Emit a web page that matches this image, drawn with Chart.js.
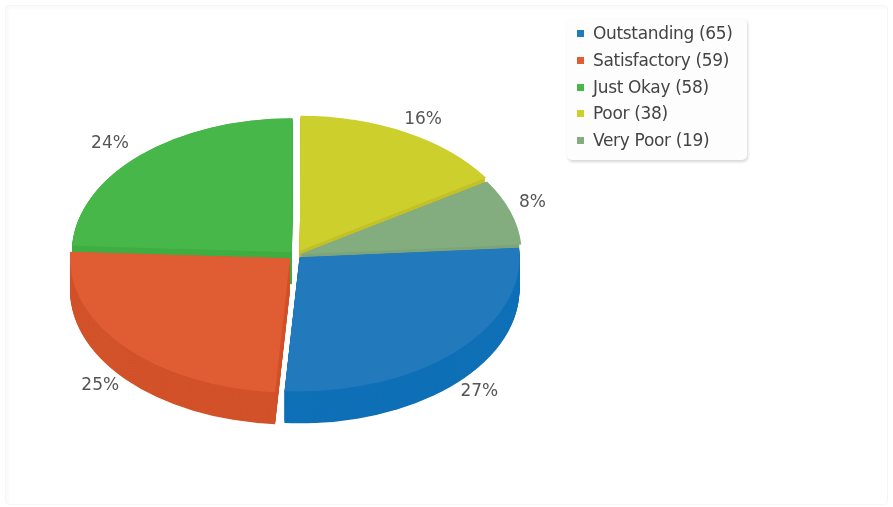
<!DOCTYPE html>
<html>
<head>
<meta charset="utf-8">
<style>
html, body { margin: 0; padding: 0; background: #fff; }
#card { position: absolute; left: 5px; top: 5px; width: 881px; height: 498px; border: 1px solid #f5f5f5; border-radius: 4px; box-shadow: inset 3px 3px 3px #fbfbfb; }
#pie3d { position: absolute; left: 0; top: 0; }
#legend { position: absolute; left: 567px; top: 18px; width: 180px; height: 142px; background: #fdfdfd; border-radius: 5px; box-shadow: 1px 2px 3px rgba(0,0,0,.16); font-family: "DejaVu Sans", sans-serif; font-size: 17px; letter-spacing: -.33px; color: #444; }
#legend div { position: absolute; left: 26px; white-space: nowrap; line-height: 26px; height: 26px; }
#legend span { position: absolute; left: -16px; top: 10px; width: 7px; height: 7px; }
</style>
</head>
<body>
<div id="card"></div>
<canvas id="pie3d" width="893" height="507"></canvas>
<div id="legend"></div>
<script src="https://cdn.jsdelivr.net/npm/chart.js@4/dist/chart.umd.min.js"></script>
<script>
var labels = ["Outstanding", "Satisfactory", "Just Okay", "Poor", "Very Poor"];
var values = [65, 59, 58, 38, 19];
var percents = ["27%", "25%", "24%", "16%", "8%"];
var topColors = ["#2279bc", "#e05d33", "#47b749", "#cdd02c", "#84ad7f"];
var sideColors = ["#0f70b7", "#d2522a", "#3fae43", "#c3c02a", "#7ea57a"];
var explode = [20, 32, 24, 32, 16];

var squash = 0.61;
var depth = 32;
var centerY = 255;
// how far out the percent labels sit, per slice
var labelRx = [259, 262, 270, 264, 249];
var labelRy = [243, 242, 253, 254, 274];
// back slices first so the front ones cover their sides
var drawOrder = [3, 4, 2, 1, 0];

// tilts the pie, extrudes each slice and writes the percent labels
var tiltedPie = {
    id: "tiltedPie",
    beforeDatasetsDraw: function (chart) {
        var ctx = chart.ctx;
        var arcs = chart.getDatasetMeta(0).data;

        ctx.save();
        ctx.translate(0, centerY);
        ctx.scale(1, squash);
        ctx.translate(0, -arcs[0].y);
        drawOrder.forEach(function (i) {
            var arc = arcs[i];
            var mid = (arc.startAngle + arc.endAngle) / 2;
            var shift = arc.options.offset / 4;
            var ox = arc.x + Math.cos(mid) * shift;
            var oy = arc.y + Math.sin(mid) * shift;
            ctx.fillStyle = sideColors[i];
            for (var d = depth / squash; d > 0; d -= 1) {
                ctx.beginPath();
                ctx.moveTo(ox, oy + d);
                ctx.arc(ox, oy + d, arc.outerRadius, arc.startAngle, arc.endAngle);
                ctx.closePath();
                ctx.fill();
            }
            arc.draw(ctx);
        });
        ctx.restore();

        ctx.save();
        ctx.font = '17px "DejaVu Sans", sans-serif';
        ctx.fillStyle = "#555";
        ctx.textAlign = "center";
        ctx.textBaseline = "middle";
        arcs.forEach(function (arc, i) {
            var mid = (arc.startAngle + arc.endAngle) / 2;
            var x = arc.x + Math.cos(mid) * labelRx[i];
            var y = centerY + Math.sin(mid) * labelRy[i] * squash;
            if (Math.sin(mid) > 0) y += depth;
            ctx.fillText(percents[i], x, y);
        });
        ctx.restore();
        return false;
    }
};

var pie3d = new Chart(document.getElementById("pie3d"), {
    type: "pie",
    data: {
        labels: labels,
        datasets: [{
            data: values,
            backgroundColor: topColors,
            borderWidth: 0,
            offset: explode
        }]
    },
    options: {
        responsive: false,
        animation: false,
        events: [],
        radius: 220,
        rotation: 86,
        layout: { padding: { left: 0, right: 301, top: 0, bottom: 0 } },
        plugins: { legend: { display: false }, tooltip: { enabled: false } }
    },
    plugins: [tiltedPie]
});

var legendBox = document.getElementById("legend");
labels.forEach(function (name, i) {
    var row = document.createElement("div");
    row.style.top = (2 + i * 26.8) + "px";
    row.textContent = name + " (" + values[i] + ")";
    var swatch = document.createElement("span");
    swatch.style.background = topColors[i];
    row.appendChild(swatch);
    legendBox.appendChild(row);
});
</script>
</body>
</html>
